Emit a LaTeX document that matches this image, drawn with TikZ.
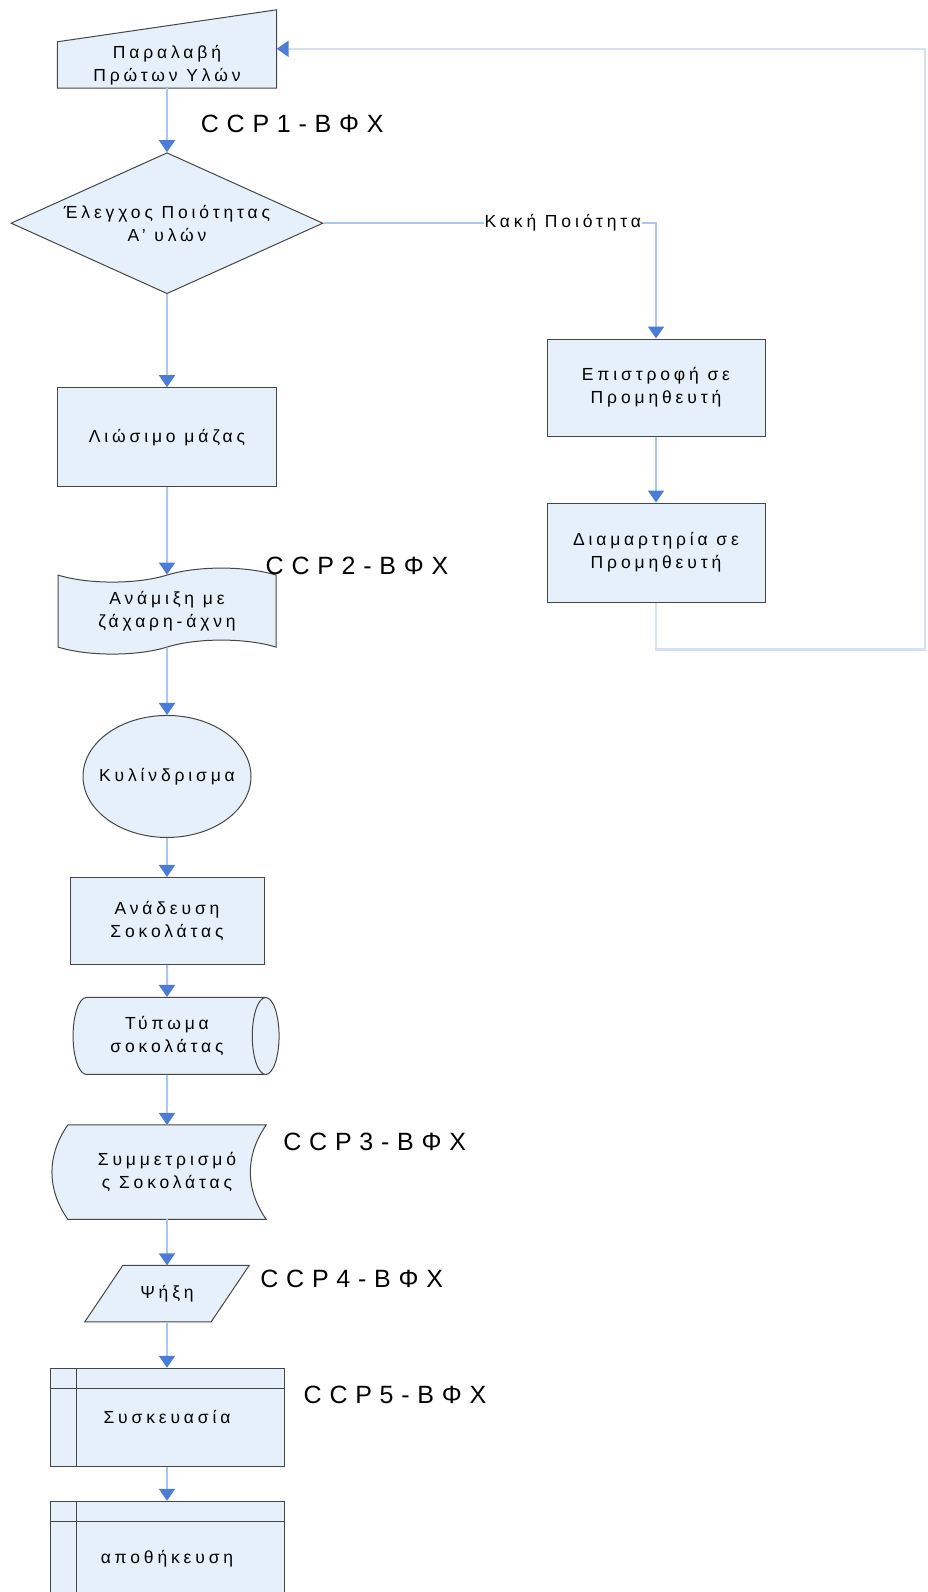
\documentclass[tikz,border=0pt]{standalone}
\usepackage{fontspec}
\setmainfont{Liberation Sans}
\newfontfamily\boxfont{Liberation Sans}[LetterSpace=22]
\newfontfamily\ccpfont{Liberation Sans}[LetterSpace=31]
\usetikzlibrary{positioning, arrows.meta, shapes.geometric, shapes.symbols, backgrounds, calc}

\definecolor{boxfill}{RGB}{230,240,250}
\definecolor{boxline}{RGB}{70,70,70}
\definecolor{flowline}{RGB}{170,200,238}
\definecolor{flowhead}{RGB}{75,125,215}
\definecolor{loopline}{RGB}{212,226,240}

\begin{document}
\begin{tikzpicture}[
    font=\boxfont\fontsize{17.5}{23}\selectfont,
    >={Triangle[length=12pt,width=16pt,color=flowhead]},
    node distance=46pt,
    shapebox/.style ={align=center, inner sep=2pt, line width=1pt, draw=boxline, fill=boxfill},
    textonly/.style ={align=center, inner sep=2pt, rectangle},
    shapeline/.style={line width=1pt, draw=boxline, fill=boxfill},
    process/.style  ={shapebox, rectangle, minimum width=219pt, minimum height=99pt},
    decision/.style ={shapebox, diamond, aspect=2.2, minimum width=312pt, minimum height=141pt, inner sep=0pt},
    punched/.style  ={shapebox, tape, tape bend top=in and out, tape bend bottom=in and out, tape bend height=14pt, minimum width=218pt, minimum height=86pt},
    oval/.style     ={shapebox, ellipse, inner xsep=-9pt, minimum width=168pt, minimum height=122pt},
    drum/.style     ={shapebox, cylinder, aspect=0.62, minimum height=206pt, minimum width=77pt},
    storage/.style  ={shapebox, rectangle, minimum width=234pt, minimum height=98pt,
        path picture={\draw[line width=1pt, boxline]
            ([xshift=26pt]path picture bounding box.north west) -- ([xshift=26pt]path picture bounding box.south west)
            ([yshift=-20pt]path picture bounding box.north west) -- ([yshift=-20pt]path picture bounding box.north east);}},
    ccp/.style      ={font=\ccpfont\fontsize{25}{28}\selectfont, inner sep=0pt, anchor=west},
    flow/.style     ={->, line width=2pt, draw=flowline},
    feedback/.style ={->, line width=2.5pt, draw=loopline},
]

\useasboundingbox (0,0) rectangle (928pt,-1592pt);

%==================== MAIN COLUMN ====================

\node[textonly, minimum width=219pt, minimum height=46pt] (recv) at (167pt,-65pt) {Παραλαβή\\Πρώτων Υλών};
\node[decision, below=64pt of recv] (qc) {Έλεγχος Ποιότητας\\Α’ υλών};
\node[process, below=93pt of qc] (melt) {Λιώσιμο μάζας};
\node[punched, below=87.5pt of melt] (mix) {Ανάμιξη με\\ζάχαρη-άχνη};
\node[oval, below=67.5pt of mix] (roll) {Κυλίνδρισμα};
\node[process, minimum width=194pt, minimum height=87pt, below=39pt of roll] (stir) {Ανάδευση\\Σοκολάτας};
\node[drum, below=32pt of stir] (mould) {Τύπωμα\\σοκολάτας};
\node[textonly, minimum width=198pt, minimum height=94pt, below=50pt of mould] (temper) {Συμμετρισμό\\ς Σοκολάτας};
\node[textonly, minimum width=126pt, minimum height=56pt, below=of temper] (cool) {Ψήξη};
\node[storage, below=of cool] (pack) {Συσκευασία};
\node[storage, minimum height=115pt, below=34pt of pack] (store) {αποθήκευση};

%==================== REJECT BRANCH ====================

\node[process, minimum width=218pt, minimum height=97pt] (ret) at (656pt,-387.5pt) {Επιστροφή σε\\Προμηθευτή};
\node[process, minimum width=218pt, below=66pt of ret] (complain) {Διαμαρτηρία σε\\Προμηθευτή};

% hand-drawn outlines
\begin{scope}[on background layer]
  \filldraw[shapeline] (recv.south west) -- (recv.north west) -- ([yshift=32pt]recv.north east) -- (recv.south east) -- cycle;
  \filldraw[shapeline] (temper.north west) -- (temper.north east) to[out=-125,in=125] (temper.south east)
      -- (temper.south west) to[out=125,in=-125] (temper.north west) -- cycle;
  \filldraw[shapeline] ([xshift=-19pt]cool.south west) -- ([xshift=19pt]cool.north west)
      -- ([xshift=19pt]cool.north east) -- ([xshift=-19pt]cool.south east) -- cycle;
\end{scope}

%==================== CCP LABELS ====================

\node[ccp] (ccp1) at ([xshift=-76pt,yshift=-36pt]recv.south east) {CCP1-ΒΦΧ};
\node[ccp] (ccp2) at ([xshift=-11pt,yshift=9pt]mix.north east) {CCP2-ΒΦΧ};
\node[ccp] (ccp3) at ([xshift=17pt,yshift=-17pt]temper.north east) {CCP3-ΒΦΧ};
\node[ccp] (ccp4) at ([xshift=30pt,yshift=-14pt]cool.north east) {CCP4-ΒΦΧ};
\node[ccp] (ccp5) at ([xshift=19pt,yshift=-27pt]pack.north east) {CCP5-ΒΦΧ};

%==================== ARROWS ====================

\draw[flow] (recv)   -- (qc);
\draw[flow] (qc)     -- (melt);
\draw[flow] (melt)   -- (mix);
\draw[flow] (mix)    -- (roll);
\draw[flow] (roll)   -- (stir);
\draw[flow] (stir)   -- (mould);
\draw[flow] (mould)  -- (temper);
\draw[flow] (temper) -- (cool);
\draw[flow] (cool)   -- (pack);
\draw[flow] (pack)   -- (store);

\draw[flow] (qc.east) -| node[pos=0.36, fill=white, inner sep=1pt] (bad) {Κακή Ποιότητα} (ret.north);
\draw[flow] (ret) -- (complain);
\draw[feedback] (complain.south) |- ++(269pt,-47pt) |- ([yshift=-7pt]recv.north east);

\end{tikzpicture}
\end{document}
